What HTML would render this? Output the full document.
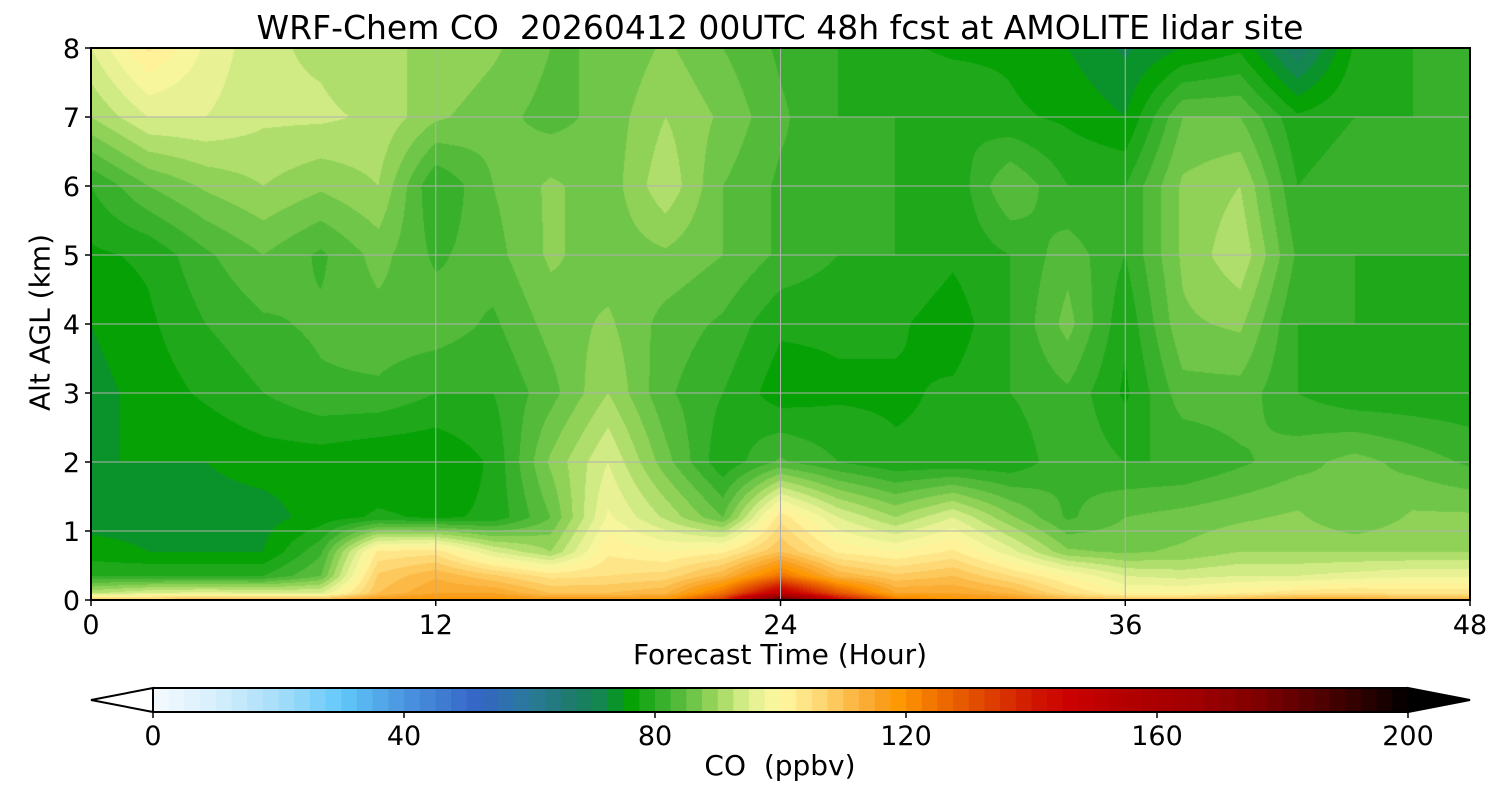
<!DOCTYPE html>
<html><head><meta charset="utf-8"><style>
body{margin:0;background:#fff;width:1500px;height:800px;overflow:hidden;font-family:"DejaVu Sans","Liberation Sans",sans-serif;position:relative}
.t{position:absolute;color:#000;white-space:nowrap}
</style></head><body>
<div class="t" style="left:0;width:1560px;text-align:center;top:8px;font-size:33px">WRF-Chem CO&nbsp; 20260412 00UTC 48h fcst at AMOLITE lidar site</div>
<canvas id="plot" width="1379" height="552" style="position:absolute;left:91px;top:48px"></canvas>
<svg id="ax" width="1500" height="800" style="position:absolute;left:0;top:0"></svg>
<div class="t" style="left:0;width:1560px;text-align:center;top:638px;font-size:28px">Forecast Time (Hour)</div>
<div class="t" style="left:-80px;top:306px;font-size:28px;transform:rotate(-90deg);width:240px;text-align:center">Alt AGL (km)</div>
<div class="t" style="left:0;width:1560px;text-align:center;top:749px;font-size:28px">CO&nbsp; (ppbv)</div>
<script>
const times=[0,2,4,6,8,10,12,14,16,18,20,22,24,26,28,30,32,34,36,38,40,42,44,46,48];
const alts=[0,0.1,0.35,0.7,1.2,2,3,4,5,6,7,8];
const co=[
[110,110,112,112,112,118,120,120,118,118,120,135,190,145,125,120,118,112,110,110,112,115,115,112,112],
[92,95,96,95,95,110,115,115,110,110,112,125,150,130,115,115,112,105,100,100,102,104,105,104,104],
[80,80,80,80,85,108,112,108,104,105,106,112,125,112,108,110,105,100,95,94,95,95,96,97,97],
[76,75,75,75,82,103,104,95,90,102,100,102,110,102,100,103,96,88,87,88,90,90,90,90,90],
[74,74,74,74,76,78,77,78,85,98,92,85,104,95,90,95,88,82,85,86,87,88,85,88,88],
[75,75,75,76,76,75,75,78,88,95,86,78,83,80,78,78,78,82,80,80,82,84,86,84,82],
[74,76,78,80,82,82,80,80,84,90,83,80,76,77,77,78,80,82,77,84,84,80,78,78,78],
[75,77,80,82,83,84,84,82,86,88,84,82,78,78,78,76,80,86,78,87,88,80,80,78,78],
[77,78,82,85,82,86,82,84,88,86,87,85,82,80,80,78,80,84,80,88,92,82,80,80,80],
[80,85,88,90,88,90,80,85,88,86,92,85,82,82,80,78,85,80,80,88,90,80,82,82,82],
[90,95,95,93,93,92,88,86,84,86,90,87,83,80,80,80,78,77,75,85,85,78,80,80,80],
[95,103,97,93,92,90,90,88,85,85,88,85,82,80,78,77,77,75,72,75,77,68,78,80,80]];
const cbTicks=[0,40,80,120,160,200];
const xTicks=[0,12,24,36,48];
const yTicks=[0,1,2,3,4,5,6,7,8];
const stops=[[0,245,250,255],[10,214,239,252],[20,166,222,250],[30,98,200,250],[40,74,149,224],[52,52,100,196],[60,42,122,154],[66,30,122,112],[72,18,136,74],[76,3,160,3],[80,42,171,37],[85,96,192,64],[90,160,216,96],[95,224,240,144],[100,255,248,160],[105,253,224,128],[110,253,192,80],[116,249,160,32],[119,255,152,0],[125,240,112,0],[132,224,72,0],[140,208,24,0],[146,204,0,0],[156,176,0,0],[166,160,0,0],[176,128,0,0],[186,80,0,0],[195,32,0,0],[200,0,0,0]];
function cmap(v){v=Math.max(0,Math.min(200,v));for(let i=1;i<stops.length;i++){if(v<=stops[i][0]){const a=stops[i-1],b=stops[i],f=(v-a[0])/(b[0]-a[0]);return [0,1,2].map(k=>Math.round(a[k+1]+(b[k+1]-a[k+1])*f));}}return [0,0,0];}
function lev(v){if(v<0)return [255,255,255];if(v>=200)return [0,0,0];return cmap(Math.floor(v/2.5)*2.5+1.25);}
const W=1379,H=552;
const xs=t=>t/48*W, ys=a=>H-a/8*H;
function interp(arr,v){let i=0;while(i<arr.length-2&&v>arr[i+1])i++;return [i,(v-arr[i])/(arr[i+1]-arr[i])];}
const cv=document.getElementById('plot'),ctx=cv.getContext('2d'),img=ctx.createImageData(W,H);
for(let py=0;py<H;py++){const a=(H-py-0.5)/H*8;const [j,fy]=interp(alts,a);
for(let px=0;px<W;px++){const t=(px+0.5)/W*48;const [i,fx]=interp(times,t);
const v=(co[j][i]*(1-fx)+co[j][i+1]*fx)*(1-fy)+(co[j+1][i]*(1-fx)+co[j+1][i+1]*fx)*fy;
const c=lev(v),o=(py*W+px)*4;img.data[o]=c[0];img.data[o+1]=c[1];img.data[o+2]=c[2];img.data[o+3]=255;}}
ctx.putImageData(img,0,0);
const NS='http://www.w3.org/2000/svg',svg=document.getElementById('ax');
const FF='DejaVu Sans, Liberation Sans, sans-serif';
function mk(tag,at,txt){const e=document.createElementNS(NS,tag);for(const k in at)e.setAttribute(k,at[k]);if(txt!==undefined)e.textContent=txt;svg.appendChild(e);return e;}
const X0=91,Y0=48;
xTicks.forEach(t=>{const x=X0+xs(t);
const g=mk('line',{x1:x,y1:Y0,x2:x,y2:Y0+H,stroke:'#b0b0b0','stroke-width':1});

mk('line',{x1:x,y1:Y0+H,x2:x,y2:Y0+H+6,stroke:'#000','stroke-width':1.5});
const l=mk('text',{x:x,y:634,'text-anchor':'middle','font-size':27,'font-family':FF},t);
});
yTicks.forEach(a=>{const y=Y0+ys(a);
const g=mk('line',{x1:X0,y1:y,x2:X0+W,y2:y,stroke:'#b0b0b0','stroke-width':1});

mk('line',{x1:X0-6,y1:y,x2:X0,y2:y,stroke:'#000','stroke-width':1.5});
const l=mk('text',{x:X0-11,y:y+10,'text-anchor':'end','font-size':27,'font-family':FF},a);
});
const fr=mk('rect',{x:X0,y:Y0,width:W,height:H,fill:'none',stroke:'#000','stroke-width':2});

const CB0=153,CB1=1408,CY=688,CH=24,cx=v=>CB0+(CB1-CB0)*v/200;
for(let v=0;v<200;v+=2.5){const c=lev(v+0.1);
const r=mk('rect',{x:cx(v),y:CY,width:(CB1-CB0)/80+0.6,height:CH,fill:`rgb(${c})`});
}
const lt=mk('polygon',{points:`${CB0},${CY} 91,${CY+CH/2} ${CB0},${CY+CH}`,fill:'#fff',stroke:'#000','stroke-width':2});

const rt=mk('polygon',{points:`${CB1},${CY} 1470,${CY+CH/2} ${CB1},${CY+CH}`,fill:'#000',stroke:'#000','stroke-width':2});

mk('polyline',{points:`${CB0},${CY} ${CB1},${CY}`,stroke:'#000','stroke-width':2,fill:'none'});
mk('polyline',{points:`${CB0},${CY+CH} ${CB1},${CY+CH}`,stroke:'#000','stroke-width':2,fill:'none'});
cbTicks.forEach(v=>{const x=cx(v);mk('line',{x1:x,y1:CY+CH,x2:x,y2:CY+CH+6,stroke:'#000','stroke-width':1.5});
const l=mk('text',{x:x,y:745,'text-anchor':'middle','font-size':27,'font-family':FF},v);
});
</script>
</body></html>
